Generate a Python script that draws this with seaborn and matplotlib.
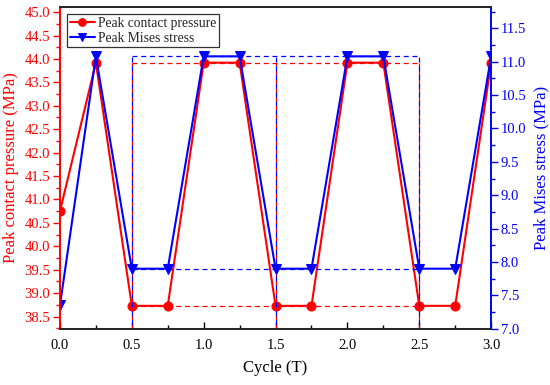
import pandas as pd
import matplotlib.pyplot as plt
import seaborn as sns
from matplotlib.ticker import MultipleLocator

# Data
cycle = [0.0, 0.25, 0.5, 0.75, 1.0, 1.25, 1.5, 1.75, 2.0, 2.25, 2.5, 2.75, 3.0]
contact = [40.75, 43.92, 38.73, 38.73, 43.92, 43.92, 38.73, 38.73, 43.92, 43.92, 38.73, 38.73, 43.92]
mises = [7.35, 11.08, 7.90, 7.90, 11.08, 11.08, 7.90, 7.90, 11.08, 11.08, 7.90, 7.90, 11.08]
guide_x = [0.5, 1.5, 2.5]
contact_levels = [43.92, 38.73]
mises_levels = [11.08, 7.90]

df = pd.DataFrame({"Cycle": cycle, "Contact": contact, "Mises": mises})

sns.set_style("ticks")
plt.rcParams["font.family"] = ["Liberation Serif", "DejaVu Serif"]

RED = "#ff0000"
BLUE = "#0000ff"
DASH = (0, (4, 3))

fig, ax1 = plt.subplots(figsize=(5.5, 3.85), dpi=100)
fig.subplots_adjust(left=0.109, right=0.893, top=0.982, bottom=0.146)
ax2 = ax1.twinx()

sns.lineplot(data=df, x="Cycle", y="Contact", ax=ax1, color=RED, marker="o",
             markersize=6.5, markeredgecolor=RED, linewidth=1.5,
             label="Peak contact pressure", legend=False)
sns.lineplot(data=df, x="Cycle", y="Mises", ax=ax2, color=BLUE, marker="v",
             markersize=7, markeredgecolor=BLUE, linewidth=1.5,
             label="Peak Mises stress", legend=False)

# dashed guide lines
ax1.set_ylim(38.24, 45.11)
ax2.set_ylim(7.0, 11.82)
for lvl in contact_levels:
    ax1.hlines(lvl, guide_x[0], guide_x[-1], colors=RED, linestyles=DASH, linewidth=0.9)
for lvl in mises_levels:
    ax2.hlines(lvl, guide_x[0], guide_x[-1], colors=BLUE, linestyles=DASH, linewidth=0.9)
ax1.vlines(guide_x, 38.24, contact_levels[0], colors=RED, linestyles=DASH, linewidth=0.9)
ax2.vlines(guide_x, 7.0, mises_levels[0], colors=BLUE, linestyles=(3.5, (4, 3)), linewidth=0.9)

ax1.set_xlim(0, 3.0)
ax1.xaxis.set_major_locator(MultipleLocator(0.5))
ax1.xaxis.set_minor_locator(MultipleLocator(0.25))
for ax in (ax1, ax2):
    ax.yaxis.set_major_locator(MultipleLocator(0.5))
    ax.yaxis.set_minor_locator(MultipleLocator(0.25))
    ax.yaxis.set_major_formatter(lambda v, p: f"{v:.1f}")
ax1.xaxis.set_major_formatter(lambda v, p: f"{v:.1f}")

ax1.set_xlabel("Cycle (T)", fontsize=12, color="black", labelpad=6)
ax1.set_ylabel("Peak contact pressure (MPa)", fontsize=12, color=RED, labelpad=4)
ax2.set_ylabel("Peak Mises stress (MPa)", fontsize=12, color=BLUE, labelpad=5)

ax1.tick_params(axis="x", which="both", direction="in", colors="black",
                labelsize=10.5, pad=7)
ax1.tick_params(axis="x", which="major", length=5, width=1)
ax1.tick_params(axis="x", which="minor", length=3, width=1)
ax1.tick_params(axis="y", which="both", direction="out", colors=RED, labelsize=10.5, pad=2)
ax1.tick_params(axis="y", which="major", length=5, width=1)
ax1.tick_params(axis="y", which="minor", length=3, width=1)
ax2.tick_params(axis="y", which="both", direction="out", colors=BLUE, labelsize=10.5, pad=2)
ax2.tick_params(axis="y", which="major", length=5, width=1)
ax2.tick_params(axis="y", which="minor", length=3, width=1)

for ax in (ax1, ax2):
    for s in ax.spines.values():
        s.set_linewidth(1.2)
        s.set_visible(True)
    ax.spines["top"].set_color("#222222")
    ax.spines["bottom"].set_color("#222222")
    ax.spines["left"].set_color(RED)
    ax.spines["right"].set_color(BLUE)

h1, l1 = ax1.get_legend_handles_labels()
h2, l2 = ax2.get_legend_handles_labels()
leg = ax2.legend(h1 + h2, l1 + l2, loc="upper left", bbox_to_anchor=(0.016, 0.978),
                 fontsize=9.8, frameon=True, fancybox=False, edgecolor="black",
                 handlelength=1.85, borderpad=0.2, labelspacing=0.15,
                 handletextpad=0.25, borderaxespad=0, markerscale=0.85)
leg.get_frame().set_linewidth(0.9)

fig.savefig("out.png", dpi=100)
